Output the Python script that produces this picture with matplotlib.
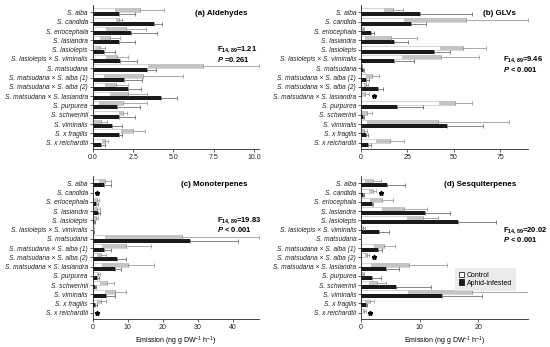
import numpy as np
import matplotlib
matplotlib.use("Agg")
import matplotlib.pyplot as plt
from matplotlib.patches import Patch

plt.rcParams['font.family'] = ['Liberation Sans', 'DejaVu Sans']
plt.rcParams['mathtext.fontset'] = 'custom'
plt.rcParams['mathtext.rm'] = 'Liberation Sans'
plt.rcParams['mathtext.it'] = 'Liberation Sans:italic'
plt.rcParams['mathtext.bf'] = 'Liberation Sans:bold'
plt.rcParams['mathtext.bfit'] = 'Liberation Sans:bold:italic'

species = ["S. alba", "S. candida", "S. eriocephala", "S. lasiandra", "S. lasiolepis",
           "S. lasiolepis × S. viminalis", "S. matsudana", "S. matsudana × S. alba (1)",
           "S. matsudana × S. alba (2)", "S. matsudana × S. lasiandra", "S. purpurea",
           "S. schwerinii", "S. viminalis", "S. x fragilis", "S. x reichardtii"]

# (a) Aldehydes
ctrl_a = [2.9, 1.63, 2.07, 1.07, 0.45, 1.49, 6.86, 3.14, 1.47, 2.2, 1.86, 1.9, 0.5, 2.52, 0.76]
ctrl_a_err = [1.5, 0.17, 1.23, 0.63, 0.31, 0.68, 3.44, 2.44, 0.73, 1.15, 1.49, 0.25, 0.4, 0.74, 0.17]
aph_a = [1.63, 3.8, 2.36, 1.63, 0.7, 1.7, 3.35, 1.96, 2.17, 4.2, 1.49, 1.6, 1.18, 1.63, 0.52]
aph_a_err = [0.97, 0.5, 1.64, 0.97, 0.7, 1.07, 0.55, 1.08, 0.83, 1.0, 1.41, 1.0, 0.64, 0.19, 0.26]
stars_a = []

# (b) GLVs
ctrl_b = [17.5, 56.6, 0.9, 16, 55, 43, 0.4, 6.1, 2.5, 2.2, 50.8, 3.2, 41.4, 1.8, 15.7]
ctrl_b_err = [5, 33.4, 0.9, 14, 12.4, 20.8, 0.3, 3.6, 1.1, 2.3, 9, 2.6, 38.2, 1.2, 7.7]
aph_b = [31.9, 27, 5.4, 17.8, 39.6, 17.8, 1.0, 2.5, 9.0, 0, 19.6, 0.9, 46.3, 2.5, 3.6]
aph_b_err = [27.9, 8, 1.8, 7.4, 8.4, 11, 0.8, 1.8, 3, 0, 13.7, 0.7, 19.7, 1.1, 1.8]
stars_b = [(9, 7.0)]

# (c) Monoterpenes
ctrl_c = [3.5, 0, 1.1, 1.1, 0.85, 0.2, 25.4, 9.6, 2.5, 10.1, 1.6, 4.0, 6.5, 2.5, 0]
ctrl_c_err = [1.7, 0, 0.8, 1.0, 0.55, 0.1, 22, 7.0, 1.3, 7.5, 0.5, 2.0, 2.9, 1.3, 0]
aph_c = [3.2, 0, 0.85, 1.4, 0.4, 0.2, 27.7, 3.2, 6.8, 6.5, 1.3, 0.6, 3.8, 0.75, 0]
aph_c_err = [2.0, 0, 0.75, 0.7, 0.3, 0.1, 13.7, 2.0, 2.8, 1.7, 0.5, 0.25, 2.5, 0.55, 0]
stars_c = [(1, 1.3), (14, 1.3)]

# (d) Sesquiterpenes
ctrl_d = [2.0, 2.0, 3.5, 7.4, 10.5, 0.4, 0, 4.0, 1.0, 8.2, 0.35, 2.8, 19.0, 1.5, 0.57]
ctrl_d_err = [1.35, 0.6, 2.0, 3.9, 2.7, 0.3, 0, 1.8, 0.4, 6.5, 0.22, 1.4, 11, 0.8, 0.28]
aph_d = [4.4, 0.4, 1.8, 10.9, 16.5, 3.1, 0, 2.85, 0, 4.3, 1.8, 6.0, 13.75, 0.8, 0]
aph_d_err = [3.1, 0.17, 0.2, 4.3, 6.6, 1.7, 0, 0.65, 0, 2.1, 1.6, 6.0, 6.85, 0.2, 0]
stars_d = [(1, 3.4), (8, 2.2), (14, 1.6)]

titles = ["(a) Aldehydes", "(b) GLVs", "(c) Monoterpenes", "(d) Sesquiterpenes"]
fvals = ["14,89", "14,89", "14,89", "14,89"]
fstats = ["1.21", "9.46", "19.83", "20.02"]
pstats = ["=0.261", "< 0.001", "< 0.001", "< 0.001"]
xlims = [10.3, 90, 47.5, 28.5]
xticks = [[0, 2.5, 5, 7.5, 10], [0, 25, 50, 75], [0, 10, 20, 30, 40], [0, 10, 20]]
xticklabels = [["0.0", "2.5", "5.0", "7.5", "10.0"], ["0", "25", "50", "75"],
               ["0", "10", "20", "30", "40"], ["0", "10", "20"]]
xlabel = "Emission (ng g DW$^{-1}$ h$^{-1}$)"

W, H = 550, 347
fig = plt.figure(figsize=(W / 100, H / 100), dpi=100)

def rect(l, r, t, b):
    return [l / W, 1 - b / H, (r - l) / W, (b - t) / H]

rects = [rect(92.7, 259, 5, 149), rect(361, 528, 5, 149),
         rect(92.7, 259, 176, 319), rect(361, 528, 176, 319)]

data = [(ctrl_a, ctrl_a_err, aph_a, aph_a_err, stars_a),
        (ctrl_b, ctrl_b_err, aph_b, aph_b_err, stars_b),
        (ctrl_c, ctrl_c_err, aph_c, aph_c_err, stars_c),
        (ctrl_d, ctrl_d_err, aph_d, aph_d_err, stars_d)]

fs = 4.75
bh = 0.43
off = 0.215
for k, (ctrl, cerr, aph, aerr, stars) in enumerate(data):
    ax = fig.add_axes(rects[k])
    y = np.arange(len(species))
    ctrl = np.array(ctrl, float); cerr = np.array(cerr, float)
    aph = np.array(aph, float); aerr = np.array(aerr, float)
    yc = y - off
    ya = y + off
    ax.barh(yc, ctrl, height=bh, color='white', edgecolor='#b5b5b5', linewidth=0.4, zorder=2)
    lo = np.maximum(ctrl - cerr, 0)
    ax.barh(yc, ctrl - lo, left=lo, height=bh, color='#c4c4c4', edgecolor='none', zorder=2.5)
    ax.barh(ya, aph, height=bh, color='#1a1a1a', edgecolor='none', zorder=2)
    m = cerr > 0
    ax.errorbar(ctrl[m], yc[m], xerr=[np.zeros(m.sum()), cerr[m]], fmt='none',
                ecolor='#8a8a8a', elinewidth=0.5, capsize=1.2, capthick=0.5, zorder=3)
    m = aerr > 0
    ax.errorbar(aph[m], ya[m], xerr=[np.zeros(m.sum()), aerr[m]], fmt='none',
                ecolor='#555555', elinewidth=0.5, capsize=1.2, capthick=0.5, zorder=3)
    for (idx, xs) in stars:
        ax.plot([xs], [idx], marker='*', color='black', markersize=3.5, zorder=4,
                linestyle='none')
    ax.set_ylim(14.68, -0.8)
    ax.set_xlim(0, xlims[k])
    ax.set_yticks(y)
    ax.set_yticklabels(species, fontsize=fs, fontstyle='italic')
    ax.set_xticks(xticks[k])
    ax.set_xticklabels(xticklabels[k], fontsize=5.0)
    ax.tick_params(axis='both', length=2, width=0.5, pad=1.5, colors='#222222')
    for sp in ['top', 'right']:
        ax.spines[sp].set_visible(False)
    for sp in ['left', 'bottom']:
        ax.spines[sp].set_linewidth(0.6)
        ax.spines[sp].set_color('#222222')
    ax.text(0.93, 0.94, titles[k], transform=ax.transAxes, ha='right', va='center',
            fontsize=5.8, fontweight='bold')
    fx = 0.75 if k in (0, 2) else 0.85
    fy = 0.69 if k in (0, 2) else 0.62
    ax.text(fx, fy, r"$\mathbf{F_{" + fvals[k] + "}}$=" + fstats[k], transform=ax.transAxes,
            ha='left', va='center', fontsize=5.5, fontweight='bold')
    ax.text(fx, fy - 0.065, r"$\mathbfit{P}$ " + pstats[k], transform=ax.transAxes,
            ha='left', va='center', fontsize=5.5, fontweight='bold')
    if k >= 2:
        ax.set_xlabel(xlabel, fontsize=5.0, labelpad=3)
    if k == 3:
        handles = [Patch(facecolor='white', edgecolor='black', linewidth=0.5, label='Control'),
                   Patch(facecolor='#1a1a1a', edgecolor='black', linewidth=0.5,
                         label='Aphid-infested')]
        leg = ax.legend(handles=handles, loc='upper left', bbox_to_anchor=(0.56, 0.36),
                        fontsize=5.0, frameon=True, fancybox=False, handlelength=0.8,
                        handleheight=0.9, handletextpad=0.4, labelspacing=0.05,
                        borderpad=0.6, borderaxespad=0)
        leg.get_frame().set_facecolor('#e6e6e6')
        leg.get_frame().set_edgecolor('none')

fig.savefig("out.png", dpi=100)
